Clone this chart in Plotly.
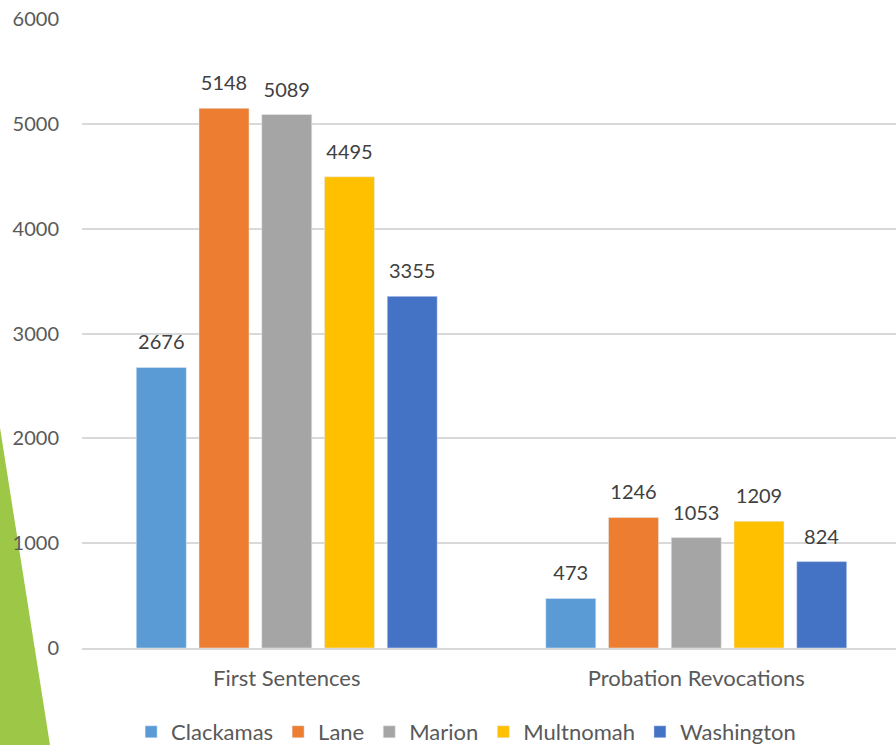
import plotly.graph_objects as go

categories = ['First Sentences', 'Probation Revocations']
counties = ['Clackamas', 'Lane', 'Marion', 'Multnomah', 'Washington']
values = {
    'Clackamas': [2676, 473],
    'Lane': [5148, 1246],
    'Marion': [5089, 1053],
    'Multnomah': [4495, 1209],
    'Washington': [3355, 824],
}
colors = ['#5B9BD5', '#ED7D31', '#A5A5A5', '#FFC000', '#4472C4']
y_ticks = [0, 1000, 2000, 3000, 4000, 5000, 6000]

FONT = 'Lato'
fig = go.Figure()
for name, col in zip(counties, colors):
    fig.add_trace(go.Bar(
        x=categories, y=values[name], name=name,
        marker_color=col,
        # small trailing line lifts the label off the bar like in the source
        text=[f'<span style="font-size:20px">{v}</span><br> ' for v in values[name]],
        textposition='outside',
        textfont=dict(family=FONT, size=10, color='#404040'),
        cliponaxis=False,
    ))

# decorative green slide wedge on the left
fig.add_shape(type='path', xref='paper', yref='paper',
              path='M -0.1001 0.35 L -0.0391 -0.1542 L -0.1001 -0.1542 Z',
              fillcolor='#9DC746', line_width=0, layer='below')

# plot area runs slightly past the right edge of the window, as in the source
fig.update_layout(
    width=901, height=745,
    margin=dict(l=82, r=0, t=19, b=97, autoexpand=False),
    paper_bgcolor='white', plot_bgcolor='white',
    barmode='group', bargap=0.234, bargroupgap=0.203,
    font=dict(family=FONT, size=20, color='#595959'),
    xaxis=dict(showgrid=False, showline=True, linecolor='#D9D9D9', linewidth=1.5,
               tickfont=dict(size=22, color='#595959'), ticks='',
               automargin=False, ticklabelstandoff=10),
    yaxis=dict(range=[0, 6000], tickvals=y_ticks, showgrid=True,
               gridcolor='#D9D9D9', gridwidth=1.5, zeroline=False,
               tickfont=dict(size=20, color='#595959'), ticklabelstandoff=22,
               automargin=False),
    legend=dict(orientation='h', x=0.469, xanchor='center', y=-0.1335,
                yanchor='middle', font=dict(size=22, color='#595959')),
)

# page body has an 8px default margin; drop it so the figure fills the window
fig.write_html('out.html', config={'displayModeBar': False},
               post_script="document.body.style.margin='0';"
                           "document.body.style.overflow='hidden';")
